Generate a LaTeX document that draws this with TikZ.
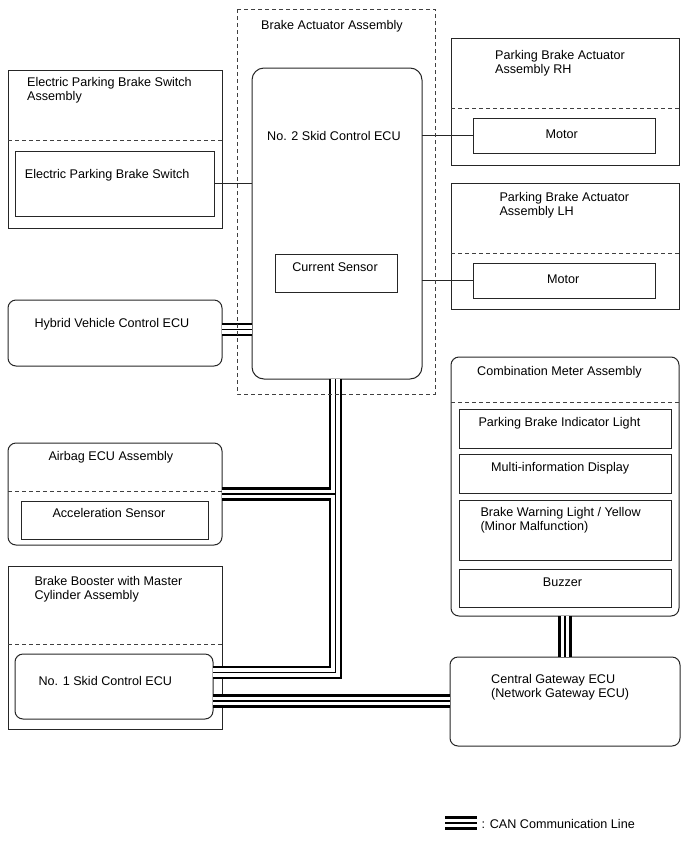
\documentclass[tikz,border=0pt]{standalone}
\usepackage{fontspec}
\setmainfont{Liberation Sans}
\tikzset{
  box/.style={draw=black!85, line width=1pt, anchor=north west, outer sep=0pt, inner sep=0pt},
  rbox/.style={box, rounded corners=8pt},
  divline/.style={draw=black!75, line width=1pt, dash pattern=on 4pt off 3pt},
  wire/.style={draw=black!85, line width=1pt},
  txt/.style={inner sep=0pt, align=left, font=\fontsize{12.6}{14}\selectfont},
  canA/.style={line width=13.5pt, black},
  canB/.style={line width=8.5pt, white},
  canC/.style={line width=1.5pt, black}
}
\begin{document}
\begin{tikzpicture}[x=1pt, y=-1pt]
    \useasboundingbox (0,0) rectangle (688,852);
    \node[box, draw=none, minimum width=198, minimum height=385] (baa) at (237,9) {};
    \node[rbox, rounded corners=12pt, minimum width=170, minimum height=311] (ecu2) at (252,68) {};
    \node[box, minimum width=122, minimum height=38] (cs) at (275,254) {};
    \node[box, minimum width=214, minimum height=158] (epbA) at (8,70) {};
    \node[box, minimum width=199, minimum height=65] (epbS) at (15,151) {};
    \node[box, minimum width=228, minimum height=127] (pbR) at (451,38) {};
    \node[box, minimum width=182, minimum height=35] (motR) at (473,118) {};
    \node[box, minimum width=228, minimum height=126] (pbL) at (451,183) {};
    \node[box, minimum width=182, minimum height=35] (motL) at (473,263) {};
    \node[rbox, minimum width=214, minimum height=66] (hv) at (8,300) {};
    \node[rbox, minimum width=214, minimum height=102] (ab) at (8,443) {};
    \node[box, minimum width=187, minimum height=38] (acc) at (21,501) {};
    \node[box, minimum width=214, minimum height=163] (bb) at (8,566) {};
    \node[rbox, minimum width=198, minimum height=65] (sk1) at (15,654) {};
    \node[rbox, minimum width=228, minimum height=259] (cm) at (451,357) {};
    \node[box, minimum width=212, minimum height=39] (pbi) at (459,409) {};
    \node[box, minimum width=212, minimum height=39] (mid) at (459,454) {};
    \node[box, minimum width=212, minimum height=60] (bwl) at (459,500) {};
    \node[box, minimum width=212, minimum height=38] (bz) at (459,569) {};
    \node[rbox, minimum width=230, minimum height=89] (gw) at (450,657) {};

    \draw[divline] ([yshift=-70]epbA.north west) -- ([yshift=-70]epbA.north east);
    \draw[divline] ([yshift=-70]pbR.north west) -- ([yshift=-70]pbR.north east);
    \draw[divline] ([yshift=-70]pbL.north west) -- ([yshift=-70]pbL.north east);
    \draw[divline] ([yshift=-48]ab.north west) -- ([yshift=-48]ab.north east);
    \draw[divline] ([yshift=-78]bb.north west) -- ([yshift=-78]bb.north east);
    \draw[divline] ([yshift=-45]cm.north west) -- ([yshift=-45]cm.north east);

    \node[txt, anchor=north west] (baaT) at (261,20.5) {Brake Actuator Assembly};
    \node[txt, anchor=north west] (ecu2T) at (267,131.5) {No. 2 Skid Control ECU};
    \node[txt, anchor=north] (csT) at (335,262.5) {Current Sensor};
    \node[txt, anchor=north west] (epbAT) at (27,77.2) {Electric Parking Brake Switch\\Assembly};
    \node[txt, anchor=north west] (epbST) at (24.7,169.5) {Electric Parking Brake Switch};
    \node[txt, anchor=north west] (pbRT) at (495,49.8) {Parking Brake Actuator\\Assembly RH};
    \node[txt, anchor=north] (motRT) at (561.7,129.8) {Motor};
    \node[txt, anchor=north west] (pbLT) at (499.3,192.2) {Parking Brake Actuator\\Assembly LH};
    \node[txt, anchor=north] (motLT) at (563.3,274.8) {Motor};
    \node[txt, anchor=north west] (hvT) at (34.3,317.8) {Hybrid Vehicle Control ECU};
    \node[txt, anchor=north west] (abT) at (48.3,451.5) {Airbag ECU Assembly};
    \node[txt, anchor=north west] (accT) at (52.3,508.2) {Acceleration Sensor};
    \node[txt, anchor=north west] (bbT) at (34.3,576.2) {Brake Booster with Master\\Cylinder Assembly};
    \node[txt, anchor=north west] (sk1T) at (38.3,676.5) {No. 1 Skid Control ECU};
    \node[txt, anchor=north west] (cmT) at (477,366.2) {Combination Meter Assembly};
    \node[txt, anchor=north west] (pbiT) at (478.3,417.5) {Parking Brake Indicator Light};
    \node[txt, anchor=north west] (midT) at (491,462.2) {Multi-information Display};
    \node[txt, anchor=north west] (bwlT) at (480.3,507.2) {Brake Warning Light / Yellow\\(Minor Malfunction)};
    \node[txt, anchor=north] (bzT) at (562.5,577.2) {Buzzer};
    \node[txt, anchor=north west] (gwT) at (491,674.2) {Central Gateway ECU\\(Network Gateway ECU)};
    \node[txt, anchor=north west] (lg) at (481.5,819.5) {: CAN Communication Line};

    \draw[wire] (epbS.east) -- (epbS.east -| ecu2.west);
    \draw[wire] (motR.west -| ecu2.east) -- (motR.west);
    \draw[wire] (motL.west -| ecu2.east) -- (motL.west);

    \coordinate (hvC) at ([yshift=3.5]hv.east);
    \coordinate (busTop) at ([xshift=-1.5]ecu2.south);
    \coordinate (sk1C) at ([yshift=14]sk1.east);
    \coordinate (sk1D) at ([yshift=-14.5]sk1.east);
    \coordinate (lgA) at (445,823);
    \coordinate (lgB) at (477,823);
    \foreach \s in {canA,canB,canC}{
        \draw[\s] (hvC) -- (hvC -| ecu2.west);
        \draw[\s] (busTop) -- (busTop |- sk1C) -- (sk1C);
        \draw[\s] (busTop |- ab.east) -- (ab.east);
        \draw[\s] (sk1D) -- (sk1D -| gw.west);
        \draw[\s] (cm.south) -- (cm.south |- gw.north);
        \draw[\s] (lgA) -- (lgB);
    }

    \draw[divline] (baa.north west) rectangle (baa.south east);
\end{tikzpicture}
\end{document}
